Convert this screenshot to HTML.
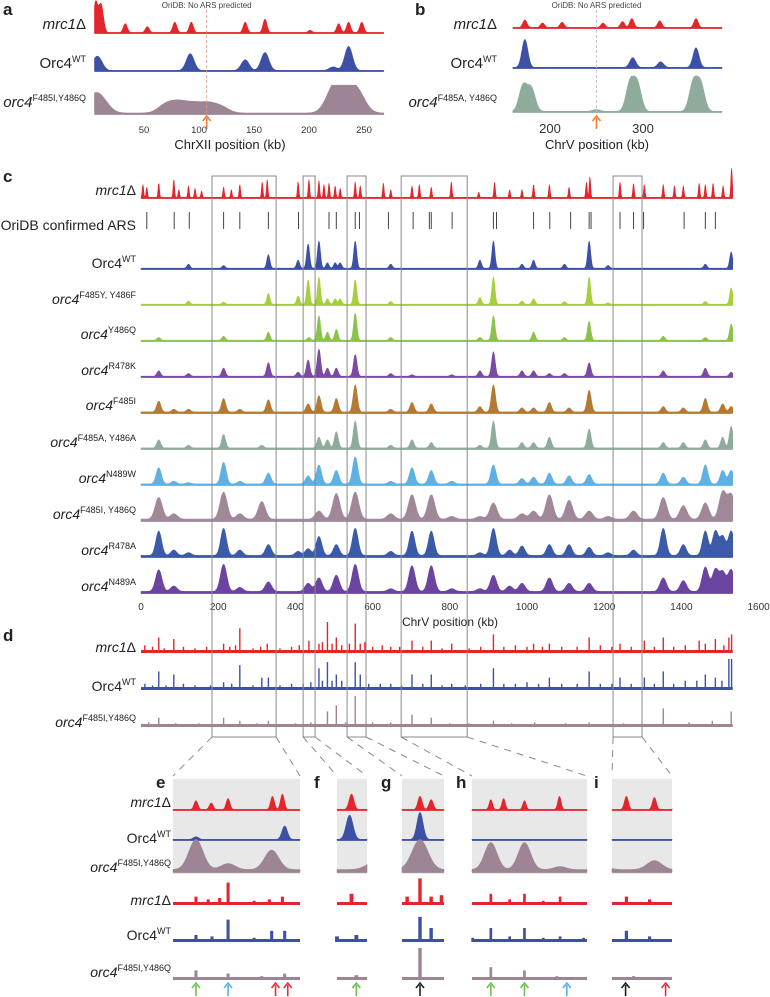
<!DOCTYPE html>
<html><head><meta charset="utf-8">
<style>
body{margin:0;background:#fff;}
#wrap{position:relative;width:770px;height:997px;overflow:hidden;font-family:"Liberation Sans",sans-serif;color:#222;}
svg{position:absolute;left:0;top:0;}
.l{position:absolute;text-align:right;line-height:16px;white-space:nowrap;font-size:14px;}
.l i{font-style:italic;}
.l sup{font-size:9px;vertical-align:6px;line-height:0;}
.pl{position:absolute;font-weight:bold;font-size:17px;line-height:18px;}
</style></head><body>
<div id="wrap">
<svg id="svg" width="770" height="997"></svg>

<div class="pl" style="left:3px;top:1px">a</div>
<div class="pl" style="left:415px;top:1px">b</div>
<div class="pl" style="left:3px;top:168px">c</div>
<div class="pl" style="left:3px;top:627px">d</div>
<div class="pl" style="left:156px;top:774px">e</div>
<div class="pl" style="left:314px;top:774px">f</div>
<div class="pl" style="left:381px;top:774px">g</div>
<div class="pl" style="left:456px;top:774px">h</div>
<div class="pl" style="left:594px;top:774px">i</div>

<div class="l" style="left:0;width:86px;top:17px;font-size:15px"><i>mrc1</i>Δ</div>
<div class="l" style="left:0;width:86px;top:56px;font-size:15px">Orc4<sup>WT</sup></div>
<div class="l" style="left:0;width:86px;top:95px;font-size:15px"><i>orc4</i><sup>F485I,Y486Q</sup></div>
<div class="l" style="left:380px;width:117px;top:17px;font-size:15px"><i>mrc1</i>Δ</div>
<div class="l" style="left:380px;width:117px;top:56px;font-size:15px">Orc4<sup>WT</sup></div>
<div class="l" style="left:380px;width:117px;top:95px;font-size:15px"><i>orc4</i><sup>F485A, Y486Q</sup></div>

<div class="l" style="left:0;width:136px;top:182px"><i>mrc1</i>Δ</div>
<div class="l" style="left:0;width:136px;top:217px">OriDB confirmed ARS</div>
<div class="l" style="left:0;width:136px;top:255px">Orc4<sup>WT</sup></div>
<div class="l" style="left:0;width:136px;top:291px"><i>orc4</i><sup>F485Y, Y486F</sup></div>
<div class="l" style="left:0;width:136px;top:326px"><i>orc4</i><sup>Y486Q</sup></div>
<div class="l" style="left:0;width:136px;top:362px"><i>orc4</i><sup>R478K</sup></div>
<div class="l" style="left:0;width:136px;top:397px"><i>orc4</i><sup>F485I</sup></div>
<div class="l" style="left:0;width:136px;top:434px"><i>orc4</i><sup>F485A, Y486A</sup></div>
<div class="l" style="left:0;width:136px;top:470px"><i>orc4</i><sup>N489W</sup></div>
<div class="l" style="left:0;width:136px;top:506px"><i>orc4</i><sup>F485I, Y486Q</sup></div>
<div class="l" style="left:0;width:136px;top:542px"><i>orc4</i><sup>R478A</sup></div>
<div class="l" style="left:0;width:136px;top:578px"><i>orc4</i><sup>N489A</sup></div>
<div class="l" style="left:0;width:136px;top:639px"><i>mrc1</i>Δ</div>
<div class="l" style="left:0;width:136px;top:678px">Orc4<sup>WT</sup></div>
<div class="l" style="left:0;width:136px;top:714px"><i>orc4</i><sup>F485I,Y486Q</sup></div>
<div class="l" style="left:0;width:171px;top:794px"><i>mrc1</i>Δ</div>
<div class="l" style="left:0;width:171px;top:830px">Orc4<sup>WT</sup></div>
<div class="l" style="left:0;width:171px;top:859px"><i>orc4</i><sup>F485I,Y486Q</sup></div>
<div class="l" style="left:0;width:171px;top:892px"><i>mrc1</i>Δ</div>
<div class="l" style="left:0;width:171px;top:927px">Orc4<sup>WT</sup></div>
<div class="l" style="left:0;width:171px;top:964px"><i>orc4</i><sup>F485I,Y486Q</sup></div>
</div>

<script>
// ---------- Panel a data (ChrXII, kb) ----------
const aMrcKb=[6,10,12,33,53,78,93,142,160,201,227,236,248];
const aMrcH=[1.0,0.6,0.5,0.3,0.2,0.35,0.35,0.35,0.45,0.08,0.3,0.35,0.35];
const aWtKb=[6,10,92,142,160,222,236];
const aWtH=[0.4,0.3,0.7,0.45,0.75,0.15,1.0];
const aMutKb=[4,12,70,82,95,108,120,222,232,244];
const aMutH=[0.6,0.4,0.35,0.4,0.35,0.35,0.25,0.9,1.0,0.85];
const aTicks=[50,100,150,200,250];
// ---------- Panel b data ----------
const bMrcKb=[173,192,213,257,278,288,318,357];
const bMrcH=[0.5,0.3,0.35,0.3,0.4,0.6,0.45,0.6];
const bWtKb=[173,289,319,357];
const bWtH=[1.0,0.35,0.2,0.7];
const bMutKb=[171,180,250,286,294,354,362];
const bMutH=[0.85,0.75,0.06,0.95,0.9,0.95,0.9];
const bTicks=[200,300];
// ---------- Panel c data ----------
const cMrcKb=[5,15,46,85,98,123,140,157,214,234,256,314,327,407,435,461,474,487,503,516,555,568,628,647,702,721,752,804,875,916,955,987,1017,1058,1109,1154,1163,1241,1276,1304,1353,1382,1405,1446,1462,1482,1508,1530];
const cMrcH=[0.5,0.4,0.55,0.7,0.3,0.45,0.35,0.25,0.4,0.3,0.5,0.6,0.7,0.6,0.7,0.65,0.5,0.55,0.45,0.35,0.6,0.45,0.55,0.3,0.45,0.5,0.4,0.6,0.2,0.6,0.3,0.3,0.5,0.5,0.4,0.6,0.8,0.6,0.55,0.5,0.5,0.45,0.45,0.55,0.5,0.55,0.45,1.15];
const oriKb=[15,86,125,214,256,330,408,487,506,555,566,641,705,747,752,806,913,921,1017,1059,1113,1161,1166,1241,1276,1302,1407,1462,1488];
const wtKb=[123,214,330,407,433,461,483,503,516,555,647,878,913,987,1017,1097,1161,1210,1462,1529];
const wtH=[0.15,0.1,0.5,0.3,0.9,1.0,0.2,0.2,0.2,1.0,0.15,0.3,1.0,0.15,0.3,0.15,1.0,0.1,0.15,0.6];
const f485yKb=[123,214,330,407,433,461,483,503,516,555,647,878,913,987,1017,1097,1161,1210,1462,1529];
const f485yH=[0.12,0.08,0.4,0.3,0.9,1.0,0.2,0.2,0.2,0.9,0.1,0.25,1.0,0.12,0.2,0.1,1.0,0.05,0.1,0.6];
const y486qKb=[46,214,330,435,461,483,506,555,647,878,913,1017,1097,1161,1353,1462,1529];
const y486qH=[0.1,0.15,0.3,0.1,0.9,0.3,0.4,1.0,0.1,0.1,0.9,0.3,0.1,0.7,0.15,0.1,0.6];
const r478kKb=[46,123,214,330,407,433,461,483,506,555,647,702,805,878,913,987,1017,1058,1097,1161,1353,1462,1529];
const r478kH=[0.2,0.1,0.3,0.5,0.15,0.6,1.0,0.3,0.3,0.8,0.1,0.05,0.05,0.2,0.9,0.2,0.2,0.1,0.1,0.5,0.2,0.3,0.15];
const f485iKb=[46,85,123,214,256,330,433,461,506,555,647,702,752,878,913,987,1017,1058,1109,1161,1353,1405,1462,1507,1529];
const f485iH=[0.4,0.1,0.1,0.5,0.1,0.45,0.3,0.6,0.5,1.0,0.1,0.35,0.3,0.2,1.0,0.15,0.15,0.35,0.15,0.8,0.2,0.15,0.5,0.3,0.2];
const f485aKb=[46,123,214,313,461,483,506,555,647,702,752,878,913,987,1017,1058,1161,1353,1405,1462,1507,1529];
const f485aH=[0.3,0.1,0.5,0.1,0.4,0.3,0.6,1.0,0.1,0.3,0.2,0.1,1.0,0.2,0.2,0.4,0.7,0.2,0.2,0.3,0.4,0.8];
const n489wKb=[46,85,123,214,256,330,433,461,506,555,647,702,752,805,913,987,1017,1058,1109,1161,1353,1405,1462,1507,1529];
const n489wH=[0.6,0.1,0.05,0.8,0.1,0.4,0.3,0.7,0.5,1.0,0.1,0.6,0.5,0.1,0.7,0.2,0.25,0.4,0.3,0.35,0.4,0.25,0.7,0.5,0.5];
const mutKb=[46,85,214,256,313,461,506,555,647,702,752,805,878,913,987,1017,1058,1109,1161,1210,1276,1353,1405,1462,1507,1529];
const mutH=[0.8,0.2,1.0,0.2,0.65,0.3,0.95,1.0,0.2,0.9,0.9,0.1,0.1,0.6,0.2,0.3,0.9,0.7,0.3,0.1,0.3,0.8,0.5,0.6,1.0,0.9];
const r478aKb=[46,85,123,214,256,330,407,433,461,506,555,647,702,752,878,913,955,987,1058,1109,1161,1210,1276,1353,1405,1462,1488,1507,1529];
const r478aH=[0.9,0.2,0.1,1.0,0.2,0.4,0.15,0.25,0.7,0.4,1.0,0.15,0.9,0.9,0.1,1.0,0.2,0.35,0.4,0.4,0.3,0.1,0.2,1.0,0.4,0.9,0.9,0.7,0.9];
const n489aKb=[46,85,214,256,330,433,461,506,555,647,702,752,805,878,913,955,987,1058,1109,1161,1353,1405,1462,1488,1507,1529];
const n489aH=[0.8,0.2,1.0,0.15,0.35,0.3,0.5,0.6,1.0,0.1,0.95,0.95,0.1,0.1,0.6,0.2,0.3,0.5,0.3,0.3,0.5,0.4,0.9,0.8,0.7,0.8];
const cTicks=[0,200,400,600,800,1000,1200,1400,1600];
// ---------- Panel d data ----------
const dMrcKb=[10,30,46,60,85,110,140,170,214,230,245,256,290,310,327,360,390,410,435,461,470,483,495,506,520,540,555,568,580,600,625,647,670,702,730,752,780,805,850,880,913,940,970,1000,1017,1040,1058,1090,1130,1161,1190,1220,1241,1270,1304,1330,1353,1380,1410,1446,1462,1488,1510,1523,1530];
const dMrcH=[0.25,0.2,0.5,0.15,0.45,0.2,0.15,0.2,0.3,0.2,0.25,0.8,0.15,0.2,0.3,0.15,0.2,0.25,0.4,0.3,0.35,1.0,0.3,0.5,0.25,0.3,0.95,0.3,0.35,0.2,0.25,0.2,0.2,0.4,0.2,0.4,0.15,0.3,0.15,0.2,0.6,0.2,0.25,0.2,0.3,0.2,0.3,0.2,0.2,0.5,0.25,0.2,0.3,0.2,0.4,0.2,0.5,0.2,0.25,0.4,0.3,0.45,0.25,0.5,0.6];
const dWtKb=[10,30,46,65,85,110,140,180,214,235,256,290,313,330,360,390,420,440,461,470,483,495,506,520,555,568,590,620,647,675,702,730,752,780,805,840,880,913,940,970,1000,1030,1058,1090,1130,1161,1190,1220,1241,1270,1304,1330,1353,1380,1410,1440,1462,1488,1505,1523,1530];
const dWtH=[0.2,0.15,0.6,0.15,0.5,0.2,0.15,0.15,0.25,0.2,0.8,0.15,0.4,0.4,0.15,0.2,0.2,0.25,0.7,0.3,0.9,0.3,0.5,0.3,0.9,0.5,0.2,0.2,0.2,0.15,0.5,0.2,0.5,0.15,0.2,0.15,0.2,0.7,0.2,0.2,0.25,0.2,0.4,0.2,0.2,0.6,0.2,0.2,0.4,0.2,0.4,0.2,0.6,0.2,0.3,0.3,0.5,0.4,0.3,1.0,1.0];
const dMutKb=[20,46,90,150,214,256,300,330,400,440,483,506,530,555,600,647,702,752,800,850,913,960,1020,1100,1161,1250,1353,1420,1480,1529];
const dMutH=[0.15,0.3,0.12,0.12,0.3,0.2,0.12,0.2,0.12,0.15,0.5,0.7,0.15,1.0,0.15,0.15,0.4,0.3,0.12,0.12,0.2,0.12,0.15,0.12,0.15,0.12,0.6,0.15,0.2,0.5];
// ---------- zoom panels ----------
const zoomNames=['e','f','g','h','i'];
const zoomKbStart=[184,420,534,674,1223];
const zoomKbEnd=[350,451,583,845,1298];
const arrowKb=[214,256,318,334,440,555,702,752,815,1240,1290];
const arrowType=['g','b','r','r','g','k','g','g','b','k','r'];
</script>
<script>
const NS='http://www.w3.org/2000/svg';
const svg=document.getElementById('svg');
function mk(tag,attrs,parent){const e=document.createElementNS(NS,tag);for(const k in attrs)e.setAttribute(k,attrs[k]);(parent||svg).appendChild(e);return e;}
const C={red:'#e3262b',blue:'#3d50a5',mauve:'#9d8595',ygreen:'#a6cf3c',green:'#8bc34a',purple:'#7b4ba3',brown:'#b57a32',sage:'#8fab9b',lblue:'#5fb0e3',mauve2:'#a08898',blue2:'#3b5aa8',purple2:'#6b44a0'};
const xA=kb=>89+kb*1.1;
const xB=kb=>550+(kb-200)*0.93;
const xC=kb=>141+kb*0.386;

function profile(kb,ks,hs,w,base){let v=base;for(let i=0;i<ks.length;i++){const d=(kb-ks[i])/w;if(Math.abs(d)<4)v+=hs[i]*Math.exp(-d*d);}return Math.min(v,1.2);}
function area(name,ks,hs,w,base,kb0,kb1,xf,y0,H,color){
  const x0=xf(kb0),x1=xf(kb1);let d='M'+x0+','+y0;
  const n=Math.ceil((x1-x0)*2);
  for(let i=0;i<=n;i++){const kb=kb0+(kb1-kb0)*i/n;const v=profile(kb,ks,hs,w,base);d+=' L'+xf(kb).toFixed(2)+','+(y0-v*H).toFixed(2);}
  d+=' L'+x1+','+y0+' Z';
  const p=mk('path',{d:d,fill:color,stroke:color,'stroke-width':0.6});
  
  
  const ln=mk('line',{x1:x0,x2:x1,y1:y0,y2:y0,stroke:color,'stroke-width':1.8});
  
  
}
function spikes(name,ks,hs,kb0,kb1,xf,y0,H,color,bw){
  const x0=xf(kb0),x1=xf(kb1);
  const b=mk('rect',{x:x0,y:y0-3,width:x1-x0,height:3,fill:color});
  
  
  for(let i=0;i<ks.length;i++){if(ks[i]<kb0||ks[i]>kb1)continue;
    const r=mk('rect',{x:xf(ks[i])-bw/2,y:y0-hs[i]*H,width:bw,height:hs[i]*H,fill:color});
    
    }
}
function txt(s,x,y,size,anchor,fill,name){const t=mk('text',{x:x,y:y,'font-size':size,'text-anchor':anchor||'middle',fill:fill||'#333','font-family':'Liberation Sans, sans-serif'});t.textContent=s;
  
  return t;}
function arrow(x,y,color,name){const g=mk('g',{});
  
  
  mk('line',{x1:x,x2:x,y1:y+13,y2:y+2,stroke:color,'stroke-width':1.6},g);
  mk('path',{d:`M${x-4},${y+5} L${x},${y} L${x+4},${y+5}`,fill:'none',stroke:color,'stroke-width':1.6},g);}

// Panel a
txt('OriDB: No ARS predicted',xA(107),8,8,'middle','#444','a-oridb-note');
area('a-mrc1-track',aMrcKb,aMrcH,2.6,0.01,5,268,xA,33,30,C.red);
area('a-orc4wt-track',aWtKb,aWtH,5,0.02,5,268,xA,71,24,C.blue);
area('a-orc4-mutant-track',aMutKb,aMutH,10,0.04,5,268,xA,114,24,C.mauve);
{const l=mk('line',{x1:xA(107),x2:xA(107),y1:10,y2:116,stroke:'#e8907c','stroke-width':0.8,'stroke-dasharray':'3,2'});}
arrow(xA(107),116,'#f08030','a-orange-arrow');
aTicks.forEach(t=>txt(String(t),xA(t),133,9.5,'middle','#333','a-tick-label'));
txt('ChrXII position (kb)',230,149,13,'middle','#222','a-x-axis-title');

// Panel b
txt('OriDB: No ARS predicted',xB(250),8,8,'middle','#444','b-oridb-note');
area('b-mrc1-track',bMrcKb,bMrcH,3.2,0.03,160,385,xB,28,15,C.red);
area('b-orc4wt-track',bWtKb,bWtH,4.5,0.02,160,385,xB,68,28,C.blue);
area('b-orc4-mutant-track',bMutKb,bMutH,6,0.02,160,385,xB,112,30,C.sage);
{const l=mk('line',{x1:xB(250),x2:xB(250),y1:10,y2:114,stroke:'#bbb','stroke-width':0.8,'stroke-dasharray':'3,2'});}
arrow(xB(250),116,'#f08030','b-orange-arrow');
bTicks.forEach(t=>txt(String(t),xB(t),133,13,'middle','#333','b-tick-label'));
txt('ChrV position (kb)',597,149,13,'middle','#222','b-x-axis-title');

// Panel c
const cTracks=[
 ['c-mrc1-track',cMrcKb,cMrcH,2.6,0.02,198,26,C.red],
 ['c-orc4wt-track',wtKb,wtH,5.5,0.03,269,27,C.blue],
 ['c-f485y-y486f-track',f485yKb,f485yH,5.5,0.03,305,27,C.ygreen],
 ['c-y486q-track',y486qKb,y486qH,6,0.03,341,27,C.green],
 ['c-r478k-track',r478kKb,r478kH,6.5,0.03,377,27,C.purple],
 ['c-f485i-track',f485iKb,f485iH,7.5,0.04,413,27,C.brown],
 ['c-f485a-y486a-track',f485aKb,f485aH,7,0.04,449,27,C.sage],
 ['c-n489w-track',n489wKb,n489wH,9.5,0.04,485,27,C.lblue],
 ['c-f485i-y486q-track',mutKb,mutH,13,0.07,521,27,C.mauve2],
 ['c-r478a-track',r478aKb,r478aH,10.5,0.06,557,27,C.blue2],
 ['c-n489a-track',n489aKb,n489aH,11.5,0.06,593,27,C.purple2]];
cTracks.forEach(t=>area(t[0],t[1],t[2],t[3],t[4],0,1533,xC,t[5],t[6],t[7]));
oriKb.forEach(k=>{const l=mk('line',{x1:xC(k),x2:xC(k),y1:212,y2:229,stroke:'#444','stroke-width':1});
  
  });
cTicks.forEach(t=>{txt(String(t),xC(t),610,10,'middle','#333','c-tick-label');});
txt('ChrV position (kb)',450,626,12,'middle','#222','c-x-axis-title');

// Panel d
spikes('d-mrc1-track',dMrcKb,dMrcH,0,1533,xC,653,31,C.red,1.4);
spikes('d-orc4wt-track',dWtKb,dWtH,0,1533,xC,690,31,C.blue,1.4);
spikes('d-orc4-mutant-track',dMutKb,dMutH,0,1533,xC,727,31,C.mauve,1.4);

// boxes + connectors
const panelX0=[173,337,402,472,612], panelX1=[300,367,444,587,672];
for(let i=0;i<5;i++){
  const bx0=xC(zoomKbStart[i]),bx1=xC(zoomKbEnd[i]);
  const r=mk('rect',{x:bx0,y:176,width:bx1-bx0,height:737-176,fill:'none',stroke:'#8a8a8a','stroke-width':1});
  
  
  [[bx0,panelX0[i]],[bx1,panelX1[i]]].forEach(p=>{const l=mk('line',{x1:p[0],y1:737,x2:p[1],y2:776,stroke:'#8a8a8a','stroke-width':1,'stroke-dasharray':'7,6'});
    
    });
}

// zoom panels e-i
for(let i=0;i<5;i++){
  const k0=zoomKbStart[i],k1=zoomKbEnd[i],p0=panelX0[i],p1=panelX1[i];
  const xf=kb=>p0+(kb-k0)/(k1-k0)*(p1-p0);
  const bg=mk('rect',{x:p0,y:779,width:p1-p0,height:95,fill:'#e8e8e8'});
  
  
  area(zoomNames[i]+'-mrc1-track',cMrcKb,cMrcH,3.5,0.02,k0,k1,xf,810,22,C.red);
  area(zoomNames[i]+'-orc4wt-track',wtKb,wtH,5,0.02,k0,k1,xf,840,27,C.blue);
  area(zoomNames[i]+'-orc4-mutant-track',mutKb,mutH,13,0.08,k0,k1,xf,872,30,C.mauve);
  const bw=Math.min(4,Math.max(2.5,4*(p1-p0)/(k1-k0)));
  spikes(zoomNames[i]+'-d-mrc1-track',dMrcKb,dMrcH,k0,k1,xf,905,28,C.red,bw);
  spikes(zoomNames[i]+'-d-orc4wt-track',dWtKb,dWtH,k0,k1,xf,942,28,C.blue,bw);
  spikes(zoomNames[i]+'-d-orc4-mutant-track',dMutKb,dMutH,k0,k1,xf,980,32,C.mauve,bw);
  arrowKb.forEach((k,j)=>{if(k>=k0&&k<=k1){const col={g:'#6cc050',b:'#5ab0e8',r:'#e03040',k:'#222'}[arrowType[j]];arrow(xf(k),983,col,'origin-arrow');}});
}
</script>
</body></html>
